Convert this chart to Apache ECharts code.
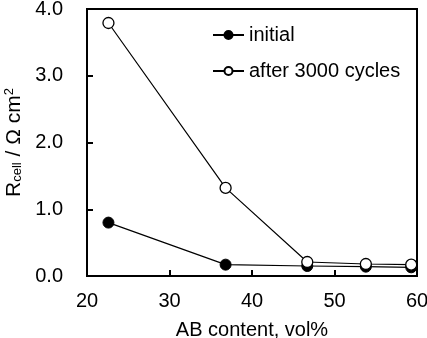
<!DOCTYPE html>
<html>
<head>
<meta charset="utf-8">
<script src="https://cdn.jsdelivr.net/npm/echarts@6/dist/echarts.min.js"></script>
<style>
  html, body { margin: 0; padding: 0; background: #fff; }
  #chart { width: 427px; height: 338px; }
</style>
</head>
<body>
<div id="chart"></div>
<script>
// AB content (vol%) and cell resistance (Ω cm²)
const abContent = [22.6, 36.8, 46.7, 53.8, 59.3];
const initial = [0.80, 0.17, 0.15, 0.14, 0.13];
const after3000 = [3.79, 1.32, 0.21, 0.18, 0.17];
const seriesNames = ["initial", "after 3000 cycles"];

const font = "Liberation Sans, Arial, sans-serif";

function pairs(xs, ys) {
  return xs.map((x, i) => [x, ys[i]]);
}

const chart = echarts.init(document.getElementById("chart"));

const option = {
  animation: false,
  textStyle: { fontFamily: font, color: "#000" },
  grid: {
    left: 87, right: 10, top: 9, bottom: 62,
    outerBoundsMode: "none",
    containLabel: false,
    show: true, borderColor: "#000", borderWidth: 2
  },
  legend: {
    orient: "vertical",
    left: 207, top: 20,
    itemWidth: 31, itemHeight: 10, itemGap: 16,
    textStyle: { fontSize: 20, color: "#000", fontFamily: font },
    data: seriesNames
  },
  xAxis: {
    type: "value",
    min: 20, max: 60, interval: 10,
    name: "AB content, vol%",
    nameLocation: "middle",
    nameGap: 44,
    nameTextStyle: { fontSize: 20, color: "#000", fontFamily: font },
    axisLine: { lineStyle: { color: "#000", width: 2 } },
    axisTick: { inside: true, length: 6, lineStyle: { color: "#000", width: 2 } },
    axisLabel: { fontSize: 20, color: "#000", margin: 15, fontFamily: font },
    splitLine: { show: false }
  },
  yAxis: {
    type: "value",
    min: 0, max: 4, interval: 1,
    name: "{n|R}{s|cell}{n| / Ω cm}{p|2}",
    nameLocation: "middle",
    nameRotate: 90,
    nameGap: 56,
    nameTextStyle: {
      fontFamily: font,
      rich: {
        n: { fontSize: 21, color: "#000", fontFamily: font },
        s: { fontSize: 13, color: "#000", fontFamily: font, verticalAlign: "bottom", padding: [8, 0, 0, 0] },
        p: { fontSize: 13, color: "#000", fontFamily: font, verticalAlign: "top", padding: [0, 0, 8, 0] }
      }
    },
    axisLine: { lineStyle: { color: "#000", width: 2 } },
    axisTick: { inside: true, length: 6, lineStyle: { color: "#000", width: 2 } },
    axisLabel: {
      fontSize: 20, color: "#000", margin: 24, fontFamily: font,
      formatter: v => v.toFixed(1)
    },
    splitLine: { show: false }
  },
  series: [
    {
      name: seriesNames[0],
      type: "line",
      data: pairs(abContent, initial),
      symbol: "circle",
      symbolSize: 11,
      lineStyle: { color: "#000", width: 1.2 },
      itemStyle: { color: "#000", borderColor: "#000", borderWidth: 1 },
      z: 2
    },
    {
      name: seriesNames[1],
      type: "line",
      data: pairs(abContent, after3000),
      symbol: "circle",
      symbolSize: 11,
      lineStyle: { color: "#000", width: 1.2 },
      itemStyle: { color: "#fff", borderColor: "#000", borderWidth: 1.3 },
      z: 3
    }
  ]
};

chart.setOption(option);
</script>
</body>
</html>
